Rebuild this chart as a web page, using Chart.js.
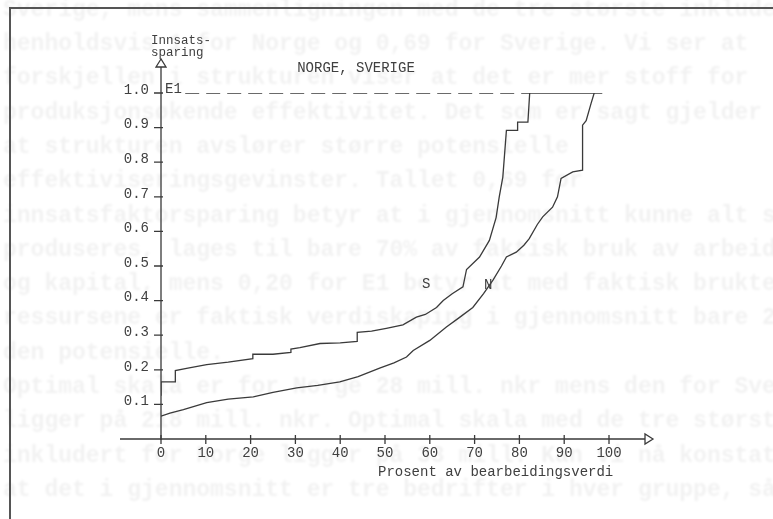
<!DOCTYPE html>
<html lang="no">
<head>
<meta charset="UTF-8">
<title>Innsatssparing - Norge, Sverige</title>
<script src="https://cdn.jsdelivr.net/npm/chart.js"></script>
<style>
  html, body { margin: 0; padding: 0; background: #fff; }
  #wrap { width: 773px; height: 519px; }
</style>
</head>
<body>
<div id="wrap"><canvas id="chart" width="773" height="519"></canvas></div>
<script>
  // S (Sverige) curve
  const sX = [0, 0, 3.2, 3.2, 6, 10.2, 15, 20.5, 20.5, 25, 29, 29, 31, 35.5, 40, 43.8, 43.8, 47, 50.3, 54, 57, 59, 61.5, 63, 65, 67.4, 68.2, 71.1, 73.3, 74.8, 75.5, 76.3, 77.1, 79.6, 79.6, 81.9, 82.3];
  const sY = [0.125, 0.165, 0.165, 0.198, 0.205, 0.215, 0.222, 0.232, 0.245, 0.245, 0.25, 0.26, 0.264, 0.276, 0.278, 0.282, 0.308, 0.312, 0.32, 0.33, 0.352, 0.36, 0.38, 0.4, 0.42, 0.44, 0.49, 0.526, 0.574, 0.64, 0.7, 0.757, 0.892, 0.892, 0.916, 0.916, 1.0];
  // N (Norge) curve
  const nX = [0, 2, 5, 10.2, 15, 20.6, 25, 30.3, 35, 39.9, 44, 48.8, 52, 54.8, 56.3, 60, 63.7, 66.5, 69.6, 72, 74.1, 76, 77.1, 79.3, 81, 82.2, 84, 85.2, 87.4, 88.5, 89.3, 91.9, 94.1, 94.1, 94.9, 96, 96.7];
  const nY = [0.066, 0.075, 0.085, 0.105, 0.115, 0.122, 0.135, 0.148, 0.155, 0.165, 0.18, 0.205, 0.22, 0.237, 0.256, 0.285, 0.324, 0.35, 0.38, 0.42, 0.459, 0.5, 0.526, 0.54, 0.56, 0.579, 0.62, 0.642, 0.67, 0.7, 0.753, 0.772, 0.777, 0.907, 0.92, 0.97, 1.0];
  // E1 frontier level
  const e1DashX = [5.4, 82.3];
  const e1SolidX = [82.3, 98.5];
  const e1Level = 1.0;

  const title = 'NORGE, SVERIGE';
  const yTitle = ['Innsats-', 'sparing'];
  const xTitle = 'Prosent av bearbeidingsverdi';

  // faint text showing through the scanned page
  const ghostLines = [
    'Sverige, mens sammenligningen med de tre største inkluderer',
    'henholdsvis 1 for Norge og 0,69 for Sverige. Vi ser at',
    'forskjellen i strukturen viser at det er mer stoff for',
    'produksjonsøkende effektivitet. Det som er sagt gjelder',
    'at strukturen avslører større potensielle',
    'effektiviseringsgevinster. Tallet 0,69 for',
    'innsatsfaktorsparing betyr at i gjennomsnitt kunne alt som',
    'produseres, lages til bare 70% av faktisk bruk av arbeids',
    'og kapital, mens 0,20 for E1 betyr at med faktisk brukte',
    'ressursene er faktisk verdiskaping i gjennomsnitt bare 20%',
    'den potensielle.',
    'Optimal skala er for Norge 28 mill. nkr mens den for Sverige',
    'ligger på 218 mill. nkr. Optimal skala med de tre største',
    'inkludert for Norge ligger på 33 mill. Kan vi nå konstatere',
    'at det i gjennomsnitt er tre bedrifter i hver gruppe, så'
  ];

  const pts = (xs, ys) => xs.map((x, i) => ({ x: x, y: ys[i] }));
  const ink = '#3a3a3a';
  const mono = '"Liberation Mono", "DejaVu Sans Mono", monospace';

  const paper = {
    id: 'paper',
    beforeDraw(chart) {
      const ctx = chart.ctx;
      ctx.save();
      ctx.fillStyle = '#fff';
      ctx.fillRect(0, 0, chart.width, chart.height);
      ctx.filter = 'blur(0.8px)';
      ctx.font = 'bold 23px ' + mono;
      ctx.fillStyle = 'rgba(0,0,0,0.055)';
      ctx.textBaseline = 'middle';
      ghostLines.forEach((t, i) => ctx.fillText(t, 3, 10 + i * 34.3));
      ctx.restore();
    },
    afterDraw(chart) {
      const ctx = chart.ctx;
      const a = chart.chartArea;
      const xs = chart.scales.x, ys = chart.scales.y;
      const x0 = xs.getPixelForValue(0), y0 = ys.getPixelForValue(0);
      ctx.save();
      ctx.strokeStyle = ink;
      ctx.lineWidth = 1.3;
      // axes
      const yTip = a.top - 34, xTip = a.right + 44;
      ctx.beginPath();
      ctx.moveTo(x0, y0 + 1);
      ctx.lineTo(x0, yTip + 8);
      ctx.moveTo(a.left - 41, y0);
      ctx.lineTo(xTip - 8, y0);
      ctx.stroke();
      // open arrow heads
      ctx.beginPath();
      ctx.moveTo(x0, yTip); ctx.lineTo(x0 - 5, yTip + 8); ctx.lineTo(x0 + 5, yTip + 8); ctx.closePath();
      ctx.moveTo(xTip, y0); ctx.lineTo(xTip - 8, y0 - 5); ctx.lineTo(xTip - 8, y0 + 5); ctx.closePath();
      ctx.stroke();
      // tick marks
      ctx.beginPath();
      ys.ticks.forEach(t => {
        if (t.value <= 0) return;
        const py = ys.getPixelForValue(t.value);
        ctx.moveTo(x0 - 7, py); ctx.lineTo(x0 + 2, py);
      });
      xs.ticks.forEach(t => {
        const px = xs.getPixelForValue(t.value);
        ctx.moveTo(px, y0 - 4); ctx.lineTo(px, y0 + 5);
      });
      ctx.stroke();
      // texts
      ctx.fillStyle = '#404040';
      ctx.textBaseline = 'middle';
      ctx.font = '14px ' + mono;
      ctx.textAlign = 'center';
      ctx.fillText(title, 356, 68);
      ctx.textAlign = 'left';
      ctx.fillText('E1', 165, 89);
      ctx.fillText('S', 422, 284);
      ctx.fillText('N', 484, 285);
      ctx.fillText(xTitle, 378, 472);
      ctx.font = '12.5px ' + mono;
      ctx.fillText(yTitle[0], 151, 41);
      ctx.fillText(yTitle[1], 151, 53);
      // page frame
      ctx.strokeStyle = '#555';
      ctx.lineWidth = 2;
      ctx.beginPath();
      ctx.moveTo(10, chart.height);
      ctx.lineTo(10, 8);
      ctx.lineTo(chart.width, 8);
      ctx.stroke();
      ctx.restore();
    }
  };

  const lineDs = (data, extra) => Object.assign({
    data: data,
    showLine: true,
    borderColor: ink,
    borderWidth: 1.3,
    pointRadius: 0,
    tension: 0,
    fill: false
  }, extra || {});

  new Chart(document.getElementById('chart'), {
    type: 'scatter',
    data: {
      datasets: [
        lineDs(pts(sX, sY)),
        lineDs(pts(nX, nY)),
        lineDs(pts(e1DashX, e1DashX.map(() => e1Level)), { borderDash: [14, 7] }),
        lineDs(pts(e1SolidX, e1SolidX.map(() => e1Level)))
      ]
    },
    options: {
      responsive: false,
      animation: false,
      layout: { padding: { left: 0, right: 164, top: 93, bottom: 0 } },
      plugins: { legend: { display: false }, tooltip: { enabled: false } },
      scales: {
        x: {
          type: 'linear',
          min: 0,
          max: 100,
          grid: { display: false, drawTicks: false },
          border: { display: false },
          ticks: { stepSize: 10, color: '#404040', font: { family: mono, size: 14 }, padding: 6, maxRotation: 0 },
          afterFit: s => { s.height = 80; }
        },
        y: {
          type: 'linear',
          min: 0,
          max: 1,
          grid: { display: false, drawTicks: false },
          border: { display: false },
          ticks: {
            stepSize: 0.1,
            color: '#404040',
            font: { family: mono, size: 14 },
            padding: 12,
            labelOffset: -3,
            callback: v => v === 0 ? '' : v.toFixed(1)
          },
          afterFit: s => { s.width = 161; }
        }
      }
    },
    plugins: [paper]
  });
</script>
</body>
</html>
